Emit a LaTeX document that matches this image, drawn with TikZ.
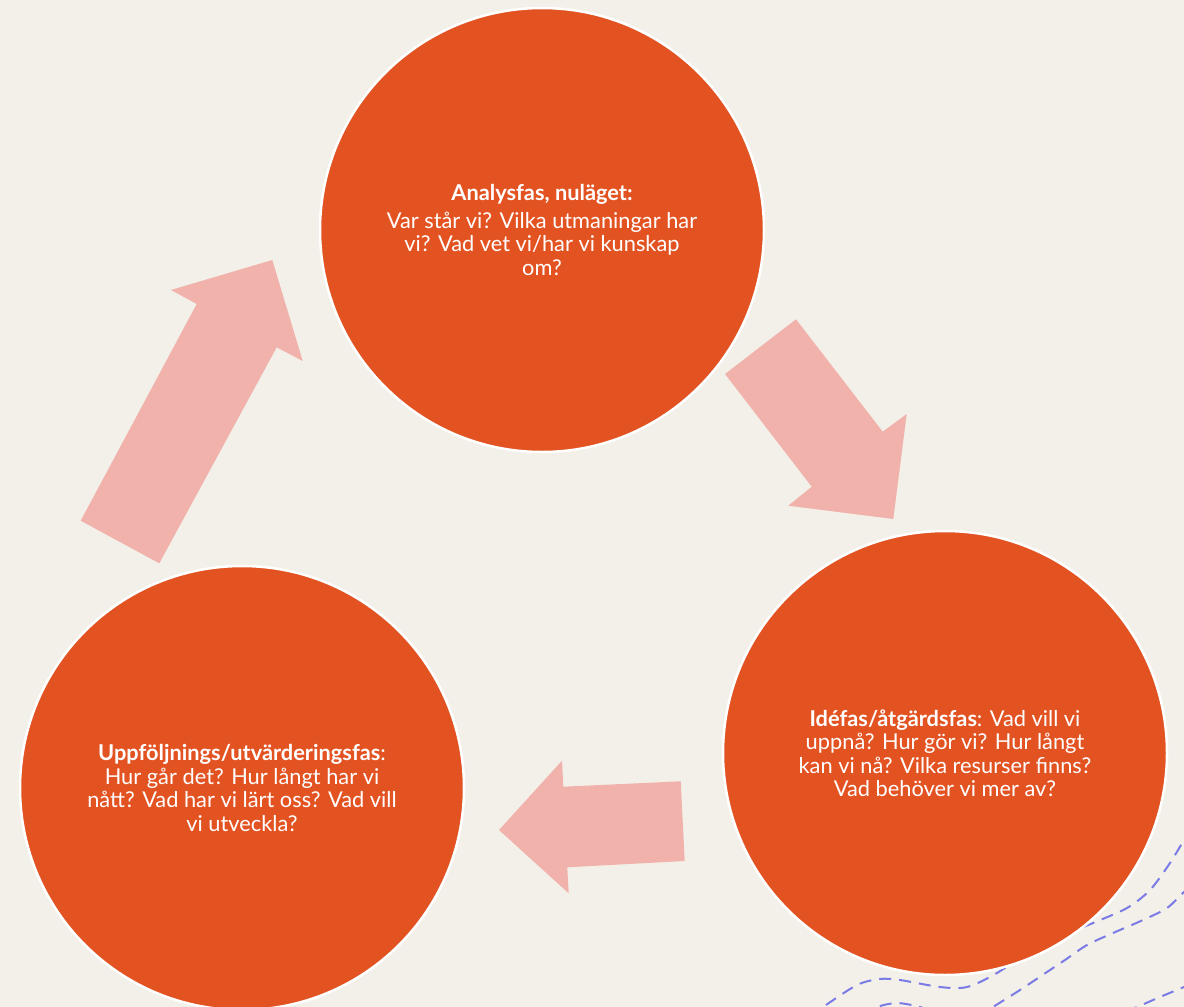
\documentclass[tikz,border=0pt]{standalone}
\usepackage{fontspec}
\setmainfont{Lato}
\usepackage{tikz}
\definecolor{bgcream}{HTML}{F3F0EA}
\definecolor{phaseorange}{HTML}{E35322}
\definecolor{arrowpink}{HTML}{F0B2AB}
\definecolor{wavepurple}{HTML}{7B7BE6}

\begin{document}
\begin{tikzpicture}[
      x=1pt, y=-1pt,
      phase/.style={circle, draw=white, line width=2.5pt, fill=phaseorange, minimum size=444pt, inner sep=0pt, align=center, text=white, font=\fontsize{21.8}{23.5}\selectfont},
      blockarrow/.style={fill=arrowpink},
      wave/.style={draw=wavepurple, line width=2pt, dash pattern=on 12pt off 8pt},
    ]
    \fill[bgcream] (0,0) rectangle (1184,1007);
    \useasboundingbox (0,0) rectangle (1184,1007);

    % dashed waves, bottom right
    \begin{scope}
      \clip (0,0) rectangle (1184,1007);
      \draw[wave] plot[smooth] coordinates {(1192,828) (1184,840) (1170,863) (1150,890) (1127,908) (1093,923) (1040,945) (997,973) (967,987) (940,987) (900,980) (880,979) (857,985) (823,1007) (812,1015)};
      \draw[wave] plot[smooth] coordinates {(1192,888) (1184,892) (1167,908) (1143,920) (1113,933) (1087,945) (1065,960) (1047,972) (1020,990) (993,1007) (984,1013)};
      \draw[wave] plot[smooth] coordinates {(862,1015) (877,1007) (897,1003) (920,1007) (935,1013)};
      \draw[wave] plot[smooth] coordinates {(1192,984) (1184,987) (1160,997) (1137,1007) (1125,1012)};
    \end{scope}

    % block arrows
    \fill[blockarrow] (80.7,520.7) -- (196.7,304) -- (171,290) -- (272.3,260) -- (302.7,361) -- (276.7,347.3) -- (159.3,563.3) -- cycle;
    \fill[blockarrow] (725,374) -- (796,319.3) -- (882.7,431.7) -- (906.7,414) -- (893.3,519) -- (788.3,505.7) -- (811.7,486.7) -- cycle;
    \fill[blockarrow] (680.7,781.3) -- (563.3,786.7) -- (562,760.7) -- (499,830) -- (568.7,893.3) -- (567.3,867.3) -- (684.7,861) -- cycle;

    % phases
    \node[phase] (analys) at (542,230) {\textbf{Analysfas, nuläget:}\\[4pt]Var står vi? Vilka utmaningar har\\vi? Vad vet vi/har vi kunskap\\om?};
    \node[phase] (ide) at (945,753) {\textbf{Idéfas/åtgärdsfas}: Vad vill vi\\uppnå? Hur gör vi? Hur långt\\kan vi nå? Vilka resurser finns?\\Vad behöver vi mer av?};
    \node[phase] (uppfoljning) at (242,788) {\textbf{Uppföljnings/utvärderingsfas}:\\Hur går det? Hur långt har vi\\nått? Vad har vi lärt oss? Vad vill\\vi utveckla?};
  \end{tikzpicture}
\end{document}
